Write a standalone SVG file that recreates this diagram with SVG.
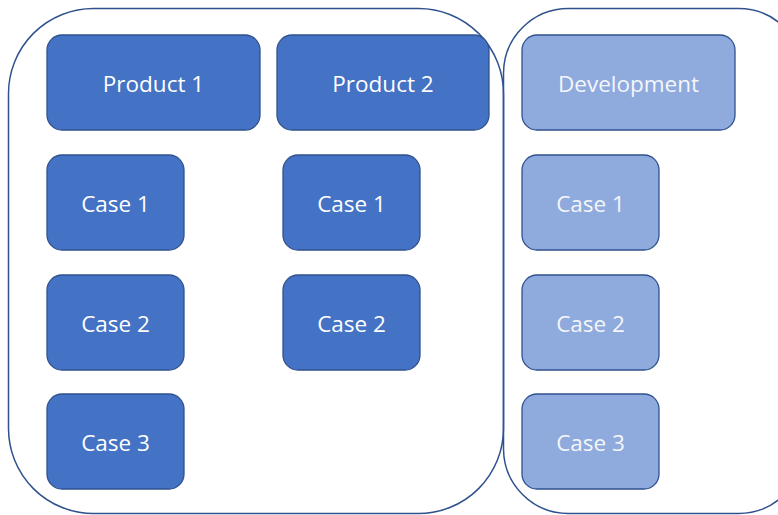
<svg xmlns="http://www.w3.org/2000/svg" width="778" height="515" viewBox="0 0 778 515">
  <style>
    .frame { fill: none; stroke: #2F528F; stroke-width: 1.5; }
    .dark { fill: #4472C4; stroke: #2F528F; stroke-width: 1.3; }
    .light { fill: #8FAADC; stroke: #2F528F; stroke-width: 1.3; }
    .lbl { font-family: "Open Sans", "Liberation Sans", sans-serif; font-size: 22.5px; fill: #FFFFFF; text-anchor: middle; dominant-baseline: central; }
    .lbl-l { fill: #F4F6FB; }
  </style>
  <rect width="778" height="515" fill="#FFFFFF"/>

  <!-- grouping frames -->
  <g id="frame-products">
    <rect class="frame" x="8.5" y="8.5" width="495" height="505" rx="85" ry="85"/>
  </g>
  <g id="frame-development">
    <rect class="frame" x="503.5" y="8.5" width="300" height="505" rx="65" ry="65"/>
  </g>

  <!-- Product 1 column -->
  <g id="product1"><rect class="dark" x="47" y="35" width="213" height="95" rx="15"/><text class="lbl" x="153.5" y="83">Product 1</text></g>
  <g id="p1-case1"><rect class="dark" x="47" y="155" width="137" height="95" rx="15"/><text class="lbl" x="115.5" y="203">Case 1</text></g>
  <g id="p1-case2"><rect class="dark" x="47" y="275" width="137" height="95" rx="15"/><text class="lbl" x="115.5" y="323">Case 2</text></g>
  <g id="p1-case3"><rect class="dark" x="47" y="394" width="137" height="95" rx="15"/><text class="lbl" x="115.5" y="442">Case 3</text></g>

  <!-- Product 2 column -->
  <g id="product2"><rect class="dark" x="277" y="35" width="212" height="95" rx="15"/><text class="lbl" x="383" y="83">Product 2</text></g>
  <g id="p2-case1"><rect class="dark" x="283" y="155" width="137" height="95" rx="15"/><text class="lbl" x="351.5" y="203">Case 1</text></g>
  <g id="p2-case2"><rect class="dark" x="283" y="275" width="137" height="95" rx="15"/><text class="lbl" x="351.5" y="323">Case 2</text></g>

  <!-- Development column -->
  <g id="development"><rect class="light" x="522" y="35" width="213" height="95" rx="15"/><text class="lbl lbl-l" x="628.5" y="83">Development</text></g>
  <g id="dev-case1"><rect class="light" x="522" y="155" width="137" height="95" rx="15"/><text class="lbl lbl-l" x="590.5" y="203">Case 1</text></g>
  <g id="dev-case2"><rect class="light" x="522" y="275" width="137" height="95" rx="15"/><text class="lbl lbl-l" x="590.5" y="323">Case 2</text></g>
  <g id="dev-case3"><rect class="light" x="522" y="394" width="137" height="95" rx="15"/><text class="lbl lbl-l" x="590.5" y="442">Case 3</text></g>

  <!-- no connectors in this chart -->
  <g id="connectors"/>
</svg>
